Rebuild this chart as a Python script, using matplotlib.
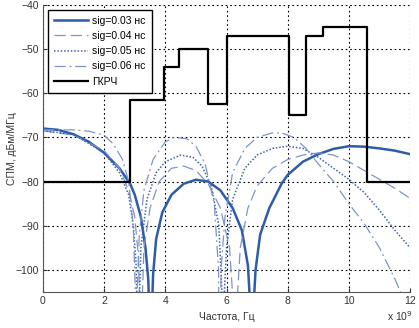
import matplotlib
matplotlib.use("Agg")
import matplotlib.pyplot as plt
import numpy as np

plt.rcParams['font.family'] = ['Liberation Sans', 'DejaVu Sans']

# frequency in GHz, PSD in dBm/MHz (nulls pushed below the axis)
f_003 = [0, 0.5, 1.0, 1.5, 2.0, 2.5, 2.85, 3.0, 3.2, 3.35, 3.44, 3.49, 3.52, 3.55, 3.6, 3.7,
         3.9, 4.2, 4.6, 5.0, 5.4, 5.8, 6.2, 6.5, 6.7, 6.79, 6.83, 6.87, 6.95, 7.1, 7.4, 7.8,
         8.0, 8.5, 9.0, 9.5, 10.0, 10.5, 11.0, 11.5, 12.0]
p_003 = [-68, -68.3, -69.3, -71, -73.5, -77, -80.5, -83, -88, -95, -102, -112, -140, -112,
         -101, -93, -87, -83, -80.5, -79.6, -80, -82, -86, -91, -99, -110, -140, -110, -100,
         -92, -86, -80.5, -78.5, -75.5, -73.8, -72.6, -72, -72.1, -72.5, -73, -73.8]

f_004 = [0, 1.0, 2.0, 2.5, 2.8, 3.0, 3.12, 3.17, 3.2, 3.23, 3.3, 3.5, 3.8, 4.2, 4.6, 5.0, 5.4,
         5.8, 6.1, 6.24, 6.28, 6.32, 6.45, 6.7, 7.0, 7.5, 8.0, 8.5, 9.0, 9.5, 10.0, 10.5, 11.0,
         11.5, 12.0]
p_004 = [-68.5, -69.5, -73, -77, -82, -88, -97, -110, -140, -110, -95, -86, -80, -77, -76.5,
         -77.5, -80.5, -86, -95, -110, -140, -110, -95, -86, -81, -77, -75, -74, -73.5, -74,
         -75.5, -77.5, -79.5, -81.5, -83.8]

f_005 = [0, 1.0, 2.0, 2.5, 2.8, 2.95, 3.04, 3.08, 3.11, 3.14, 3.2, 3.4, 3.7, 4.0, 4.5, 4.9,
         5.2, 5.5, 5.75, 5.85, 5.89, 5.93, 6.0, 6.2, 6.6, 7.0, 7.5, 8.0, 8.5, 9.0, 9.5, 10.0,
         10.5, 11.0, 11.5, 12.0]
p_005 = [-68.5, -69.3, -73.5, -78, -83, -90, -98, -110, -140, -110, -95, -84, -78, -75.5, -74,
         -74.5, -76.5, -81, -90, -105, -140, -105, -95, -84, -77, -74, -72.5, -72, -72.5,
         -74.5, -77, -79.5, -82.5, -86.5, -91, -95]

f_006 = [0, 1.0, 1.5, 2.0, 2.3, 2.6, 2.8, 2.95, 3.02, 3.05, 3.08, 3.15, 3.3, 3.6, 4.0, 4.3,
         4.7, 5.0, 5.3, 5.6, 5.74, 5.78, 5.82, 5.95, 6.2, 6.6, 7.0, 7.5, 7.8, 8.2, 8.6, 9.0,
         9.5, 10.0, 10.5, 11.0, 11.5, 12.0]
p_006 = [-68.3, -68.3, -68.6, -69.5, -71.5, -75, -80, -90, -105, -140, -105, -92, -82, -75,
         -71, -70, -70.3, -72, -76, -85, -100, -140, -100, -88, -78, -72.5, -70, -69, -69, -70,
         -72.5, -76, -80, -85, -89.5, -95, -102, -110]

# ГКРЧ mask: band edges (GHz) and levels (dBm/MHz)
mask_edges = [0, 2.85, 3.95, 4.45, 5.4, 6.0, 8.05, 8.6, 9.15, 10.6, 12]
mask_levels = [-80, -61.5, -54, -50, -62.5, -47, -65, -47, -45, -80]

fig = plt.figure(figsize=(4.19, 3.28), dpi=100)
ax = fig.add_axes([0.1026, 0.11, 0.876, 0.875])

ax.plot(f_003, p_003, color='#2d5ca8', lw=1.8, label='sig=0.03 нс')
ax.plot(f_004, p_004, color='#7f95c6', lw=0.9, ls=(0, (9, 4)), label='sig=0.04 нс')
ax.plot(f_005, p_005, color='#3b63b2', lw=1.1, ls=(0, (1, 1.2)), label='sig=0.05 нс')
ax.plot(f_006, p_006, color='#7d95c8', lw=0.9, ls=(0, (9, 3, 1.5, 3)), label='sig=0.06 нс')

mx = np.array(mask_edges)
my = np.array(mask_levels + [mask_levels[-1]])
ax.step(mx, my, where='post', color='black', lw=1.6, label='ГКРЧ')

ax.set_xlim(0, 12)
ax.set_ylim(-105, -40)
ax.set_xticks(np.arange(0, 13, 2))
ax.set_yticks(np.arange(-100, -39, 10))
ax.grid(True, color='black', ls=(0, (1.5, 2.5)), lw=0.8)
ax.spines['top'].set_visible(False)
ax.spines['right'].set_visible(False)
ax.spines['left'].set_color('#555555')
ax.spines['bottom'].set_color('#555555')
ax.tick_params(direction='in', length=3, labelsize=7.5, colors='#333333', pad=3)

ax.set_xlabel('Частота, Гц', fontsize=7.5, color='#333333', labelpad=4)
ax.set_ylabel('СПМ, дБм/МГц', fontsize=7.5, color='#333333')
ax.yaxis.set_label_coords(-0.072, 0.5)
fig.text(0.985, 0.015, r'x 10$^9$', ha='right', va='bottom', fontsize=7.5, color='#333333')

leg = ax.legend(loc='upper left', fontsize=7.5, handlelength=3.3, labelspacing=0.5,
                borderaxespad=0.45, borderpad=0.6, fancybox=False, framealpha=1,
                edgecolor='black', handletextpad=0.4)
leg.get_frame().set_linewidth(1.0)

fig.savefig('out.png', dpi=100)
